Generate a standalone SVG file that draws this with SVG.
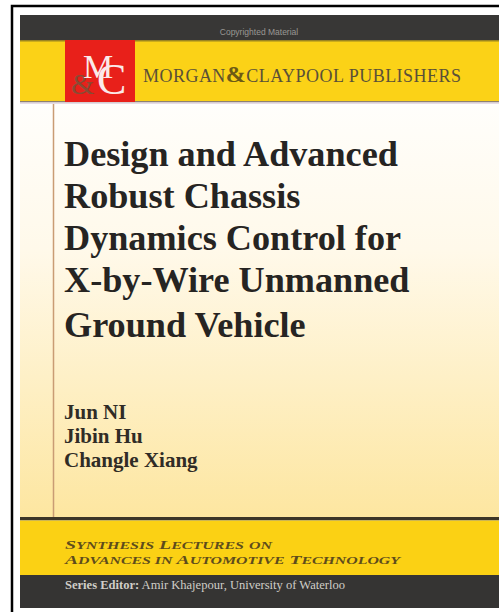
<svg xmlns="http://www.w3.org/2000/svg" width="499" height="612" viewBox="0 0 499 612">
  <style>
    .title { font-family: "Liberation Serif", "DejaVu Serif", serif; font-weight: bold; font-size: 36.2px; fill: #262422; }
    .author { font-family: "Liberation Serif", "DejaVu Serif", serif; font-weight: bold; font-size: 21px; fill: #302c26; }
    .series { font-family: "Liberation Serif", "DejaVu Serif", serif; font-style: italic; font-weight: bold; fill: #5e4c1c; }
    .pub { font-family: "Liberation Serif", "DejaVu Serif", serif; font-size: 18px; fill: #5a5038; }
  </style>
  <defs>
    <linearGradient id="cream" x1="0" y1="0" x2="0" y2="1">
      <stop offset="0" stop-color="#fffefb"/>
      <stop offset="0.35" stop-color="#fff9ea"/>
      <stop offset="1" stop-color="#fde6a0"/>
    </linearGradient>
  </defs>
  <rect x="0" y="0" width="499" height="612" fill="#ffffff"/>
  <g id="frame" fill="none" stroke="#000000" stroke-width="2.5">
    <path d="M12 612 V6 H499"/>
  </g>
  <g id="top-band">
    <rect x="20" y="15" width="479" height="25" fill="#383736"/>
    <text x="259" y="35" text-anchor="middle" font-family="Liberation Sans, Arial, sans-serif" font-size="8.5" fill="#9a9894">Copyrighted Material</text>
    <rect x="20" y="40" width="479" height="61" fill="#fbd217"/>
    <rect x="20" y="40" width="479" height="1.5" fill="#9c8520"/>
    <rect x="20" y="101" width="479" height="1.5" fill="#8d8070"/>
    <rect x="20" y="102.5" width="479" height="1.5" fill="#e6dce6"/>
  </g>
  <g id="logo">
    <rect x="65" y="40" width="70" height="62" fill="#e8201a"/>
    <text font-family="Liberation Serif, serif" fill="#fbeaea"><tspan x="71" y="94" font-size="30" fill="#8a4a34">&amp;</tspan><tspan x="83" y="78" font-size="34">M</tspan><tspan x="97" y="94" font-size="44">C</tspan></text>
  </g>
  <g id="publisher">
    <text class="pub" x="143" y="82" textLength="318" lengthAdjust="spacing">MORGAN<tspan font-size="24" font-weight="bold" fill="#6e5a14">&amp;</tspan>CLAYPOOL PUBLISHERS</text>
  </g>
  <g id="body">
    <rect x="20" y="104" width="479" height="414" fill="url(#cream)"/>
    <line x1="53.5" y1="104" x2="53.5" y2="518" stroke="#c99c74" stroke-width="1.5"/>
  </g>
  <g id="title">
    <text class="title" x="64" y="166">Design and Advanced</text>
    <text class="title" x="64" y="208">Robust Chassis</text>
    <text class="title" x="64" y="250">Dynamics Control for</text>
    <text class="title" x="64" y="292">X-by-Wire Unmanned</text>
    <text class="title" x="64" y="337">Ground Vehicle</text>
  </g>
  <g id="authors">
    <text class="author" x="64" y="419">Jun NI</text>
    <text class="author" x="64" y="443">Jibin Hu</text>
    <text class="author" x="64" y="467">Changle Xiang</text>
  </g>
  <g id="series-band">
    <rect x="20" y="517" width="479" height="3.5" fill="#3c3527"/>
    <rect x="20" y="520.5" width="479" height="55" fill="#fbd114"/>
    <rect x="20" y="575" width="479" height="33" fill="#353433"/>
    <text class="series" x="65" y="549" font-size="13" textLength="207" lengthAdjust="spacingAndGlyphs">S<tspan font-size="10.5">YNTHESIS</tspan> L<tspan font-size="10.5">ECTURES</tspan> <tspan font-size="10.5">ON</tspan></text>
    <text class="series" x="65" y="564" font-size="13" textLength="335" lengthAdjust="spacingAndGlyphs">A<tspan font-size="10.5">DVANCES IN</tspan> A<tspan font-size="10.5">UTOMOTIVE</tspan> T<tspan font-size="10.5">ECHNOLOGY</tspan></text>
    <text x="65" y="589" font-family="Liberation Serif, serif" font-size="11.5" fill="#d0cec8" textLength="280" lengthAdjust="spacingAndGlyphs"><tspan font-weight="bold">Series Editor:</tspan> Amir Khajepour, University of Waterloo</text>
  </g>
</svg>
